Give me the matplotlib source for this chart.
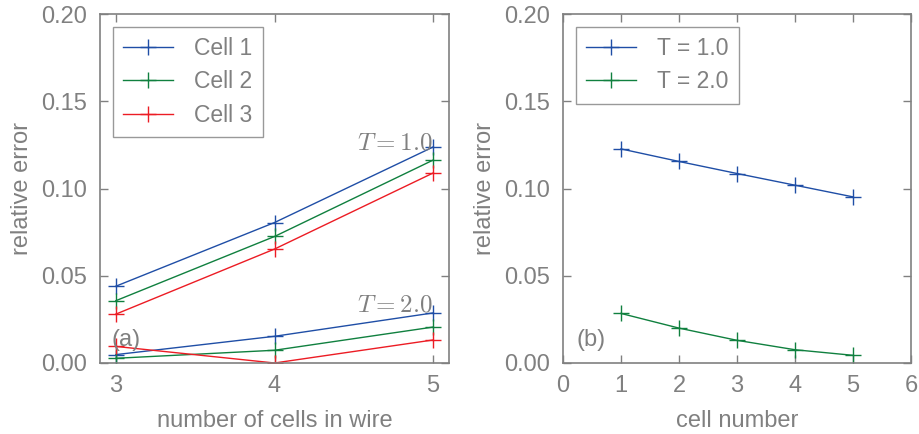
import matplotlib
matplotlib.use('Agg')
import matplotlib.pyplot as plt

# panel (a): error vs number of cells in wire
n_cells = [3, 4, 5]
t1_cell1 = [0.044, 0.0805, 0.1238]
t1_cell2 = [0.0357, 0.0725, 0.1163]
t1_cell3 = [0.028, 0.0653, 0.1089]
t2_cell1 = [0.0048, 0.0153, 0.0287]
t2_cell2 = [0.0027, 0.0073, 0.0206]
t2_cell3 = [0.0095, 0.0, 0.0132]

# panel (b): error vs cell number
cell_number = [1, 2, 3, 4, 5]
t1_err = [0.1227, 0.1155, 0.1086, 0.1019, 0.0952]
t2_err = [0.0284, 0.0200, 0.0130, 0.0076, 0.0044]

blue = '#1f4ea6'
green = '#10803f'
red = '#ec1c24'
gray = '#808080'

plt.rcParams['font.family'] = ['Liberation Sans', 'DejaVu Sans']
plt.rcParams['mathtext.fontset'] = 'cm'
plt.rcParams['font.size'] = 17
plt.rcParams['text.color'] = gray
plt.rcParams['axes.labelcolor'] = gray
plt.rcParams['axes.edgecolor'] = gray
plt.rcParams['xtick.color'] = gray
plt.rcParams['ytick.color'] = gray

fig = plt.figure(figsize=(9.19, 4.34), dpi=100)
ax1 = fig.add_axes([0.1088, 0.1636, 0.3798, 0.8041])
ax2 = fig.add_axes([0.6126, 0.1636, 0.3787, 0.8041])

mk = dict(marker='+', markersize=12, markeredgewidth=1.0, linewidth=1.0)

ax1.plot(n_cells, t1_cell1, color=blue, label='Cell 1', **mk)
ax1.plot(n_cells, t1_cell2, color=green, label='Cell 2', **mk)
ax1.plot(n_cells, t1_cell3, color=red, label='Cell 3', **mk)
ax1.plot(n_cells, t2_cell1, color=blue, **mk)
ax1.plot(n_cells, t2_cell2, color=green, **mk)
ax1.plot(n_cells, t2_cell3, color=red, **mk)
ax1.text(5.0, 0.1265, r'$T=1.0$', ha='right', va='center', fontsize=18, color=gray)
ax1.text(5.0, 0.0335, r'$T=2.0$', ha='right', va='center', fontsize=18, color=gray)
ax1.text(2.975, 0.013, '(a)', ha='left', va='center', fontsize=17, color=gray)
ax1.set_xlim(2.9, 5.1)
ax1.set_xticks([3, 4, 5])
ax1.set_xlabel('number of cells in wire', labelpad=9)

ax2.plot(cell_number, t1_err, color=blue, label='T = 1.0', **mk)
ax2.plot(cell_number, t2_err, color=green, label='T = 2.0', **mk)
ax2.text(0.24, 0.013, '(b)', ha='left', va='center', fontsize=17, color=gray)
ax2.set_xlim(0, 6)
ax2.set_xticks(range(0, 7))
ax2.set_xlabel('cell number', labelpad=9)

for ax in (ax1, ax2):
    ax.set_ylim(0, 0.20)
    ax.set_yticks([0.0, 0.05, 0.10, 0.15, 0.20])
    ax.set_yticklabels(['0.00', '0.05', '0.10', '0.15', '0.20'])
    ax.set_ylabel('relative error', labelpad=6)
    ax.tick_params(direction='in', top=True, right=True, length=6, width=1, pad=9)
    for sp in ax.spines.values():
        sp.set_linewidth(1.2)
    leg = ax.legend(loc='upper left', fancybox=False, edgecolor=gray, fontsize=16.5,
                    handlelength=2.2, handletextpad=0.9, borderaxespad=0.55,
                    labelspacing=0.45, borderpad=0.45)
    leg.get_frame().set_linewidth(1.0)
    for t in leg.get_texts():
        t.set_color(gray)

fig.savefig('out.png', dpi=100)
